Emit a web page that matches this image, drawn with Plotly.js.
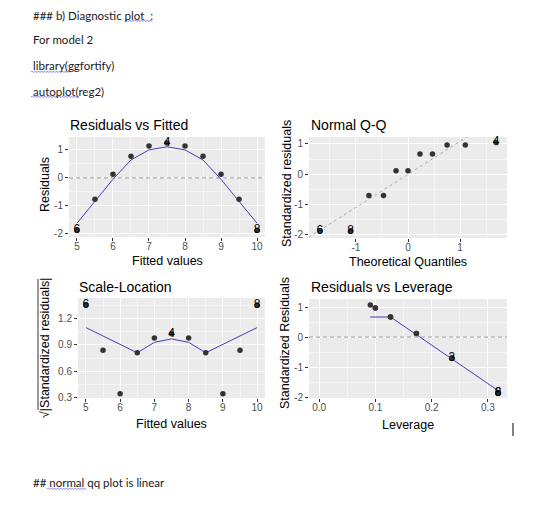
<!DOCTYPE html>
<html><head><meta charset="utf-8">
<script src="https://cdn.plot.ly/plotly-3.0.1.min.js"></script>
<style>html,body{margin:0;padding:0;background:#fff;} #chart{width:560px;height:507px;}</style>
</head><body><div id="chart"></div>
<script>
// ---------- data ----------
const fitted = [5,5.5,6,6.5,7,7.5,8,8.5,9,9.5,10];
const residuals = [-1.87,-0.76,0.13,0.77,1.14,1.25,1.14,0.77,0.13,-0.76,-1.87];
const residSmooth = [-1.62,-0.84,-0.05,0.64,1.0,1.11,1.0,0.64,-0.05,-0.84,-1.62];
const residLabelIdx = [0,5,10];
const residLabels = ["6","4","8"];

const theoretical = [-1.69,-1.10,-0.75,-0.47,-0.23,0,0.23,0.47,0.75,1.10,1.69];
const sampleStdRes = [-1.86,-1.86,-0.70,-0.70,0.12,0.12,0.67,0.67,0.97,0.97,1.05];
const qqLabelIdx = [0,1,10];
const qqLabels = ["6","8","4"];
const qqLineX = [-2.2, 2.2];
const qqLineY = [-2.4, 2.4];

const sqrtStdRes = [1.36,0.84,0.34,0.81,0.98,1.03,0.98,0.81,0.34,0.84,1.36];
const slSmoothX = [5,6.5,7,7.5,8,8.5,10];
const slSmoothY = [1.10,0.81,0.93,0.97,0.93,0.81,1.10];
const slLabelIdx = [0,5,10];
const slLabels = ["6","4","8"];

const leverage = [0.318,0.236,0.173,0.127,0.100,0.091,0.100,0.127,0.173,0.236,0.318];
const stdRes = [-1.86,-0.70,0.12,0.67,0.97,1.07,0.97,0.67,0.12,-0.70,-1.86];
const levSmoothX = [0.091,0.100,0.127,0.173,0.236,0.318];
const levSmoothY = [0.67,0.67,0.67,0.08,-0.74,-1.78];
const levLabelIdx = [0,10,1];
const levLabels = ["6","8","3"];

const fittedTicks = [5,6,7,8,9,10];
const fittedTickText = ["5","6","7","8","9","10"];
const residTicks = [-2,-1,0,1];
const residTickText = ["-2","-1","0","1"];
const qqTicks = [-1,0,1];
const qqTickText = ["-1","0","1"];
const slTicks = [0.3,0.6,0.9,1.2];
const slTickText = ["0.3","0.6","0.9","1.2"];
const levTicks = [0,0.1,0.2,0.3];
const levTickText = ["0.0","0.1","0.2","0.3"];

// ---------- helpers ----------
const W = 560, H = 507;
const px = x => x / W;
const py = y => 1 - y / H;
const F = "Liberation Sans, Arial, sans-serif";
const DOC = "Lato, 'Open Sans', sans-serif";
const PT = "#333333", LINE = "#3f3fbf";

function pick(arr, idx){ return idx.map(i => arr[i]); }

function ax(dom, range, tv, tt, minor, anchor, isY){
  return {
    domain: isY ? [py(dom[1]), py(dom[0])] : [px(dom[0]), px(dom[1])],
    range: range, anchor: anchor, fixedrange: true,
    tickmode: "array", tickvals: tv, ticktext: tt,
    ticks: "outside", ticklen: 3, tickwidth: 1, tickcolor: "#333333",
    ticklabelstandoff: isY ? 0 : -3,
    tickfont: {family: F, size: 10, color: "#4D4D4D"},
    showgrid: true, gridcolor: "#ffffff", gridwidth: 1,
    zeroline: false, showline: false,
    minor: {tickvals: minor, showgrid: true, gridcolor: "#ffffff", gridwidth: 0.5}
  };
}

const traces = [];
const labelFont = {family: F, size: 12, color: "#000000"};
function panel(xa, ya, x, y, sx, sy, lidx, ltxt){
  traces.push({x: sx, y: sy, xaxis: xa, yaxis: ya, mode: "lines", type: "scatter",
    line: {color: LINE, width: 1}, hoverinfo: "skip"});
  traces.push({x: x, y: y, xaxis: xa, yaxis: ya, mode: "markers", type: "scatter",
    marker: {color: PT, size: 5.5}, hoverinfo: "skip"});
  traces.push({x: pick(x, lidx), y: pick(y, lidx), text: ltxt, xaxis: xa, yaxis: ya,
    mode: "text", type: "scatter", textposition: "middle center", cliponaxis: false,
    textfont: labelFont, hoverinfo: "skip"});
}

panel("x", "y", fitted, residuals, fitted, residSmooth, residLabelIdx, residLabels);
// Q-Q: dashed reference line instead of smoother
traces.push({x: qqLineX, y: qqLineY, xaxis: "x2", yaxis: "y2", mode: "lines", type: "scatter",
  line: {color: "#a0a0a0", width: 0.9, dash: "3px,3px"}, hoverinfo: "skip"});
traces.push({x: theoretical, y: sampleStdRes, xaxis: "x2", yaxis: "y2", mode: "markers", type: "scatter",
  marker: {color: PT, size: 5.5}, hoverinfo: "skip"});
traces.push({x: pick(theoretical, qqLabelIdx), y: pick(sampleStdRes, qqLabelIdx), text: qqLabels,
  xaxis: "x2", yaxis: "y2", mode: "text", type: "scatter", textposition: "middle center", cliponaxis: false,
  textfont: labelFont, hoverinfo: "skip"});
panel("x3", "y3", fitted, sqrtStdRes, slSmoothX, slSmoothY, slLabelIdx, slLabels);
panel("x4", "y4", leverage, stdRes, levSmoothX, levSmoothY, levLabelIdx, levLabels);

const P1 = {x:[69,265], y:[137,237]};
const P2 = {x:[309,507], y:[137,238]};
const P3 = {x:[78,265], y:[298,398]};
const P4 = {x:[309,507], y:[299,398]};

const layout = {
  width: W, height: H, margin: {l:0, r:0, t:0, b:0},
  paper_bgcolor: "#ffffff", plot_bgcolor: "#EBEBEB", showlegend: false,
  font: {family: F},
  xaxis:  ax(P1.x, [4.78,10.22], fittedTicks, fittedTickText, [5.5,6.5,7.5,8.5,9.5], "y", false),
  yaxis:  ax(P1.y, [-2.11,1.46], residTicks, residTickText, [-1.5,-0.5,0.5], "x", true),
  xaxis2: ax(P2.x, [-1.9,1.9], qqTicks, qqTickText, [-1.5,-0.5,0.5,1.5], "y2", false),
  yaxis2: ax(P2.y, [-2.1,1.23], residTicks, residTickText, [-1.5,-0.5,0.5], "x2", true),
  xaxis3: ax(P3.x, [4.77,10.23], fittedTicks, fittedTickText, [5.5,6.5,7.5,8.5,9.5], "y3", false),
  yaxis3: ax(P3.y, [0.29,1.44], slTicks, slTickText, [0.45,0.75,1.05,1.35], "x3", true),
  xaxis4: ax(P4.x, [-0.018,0.334], levTicks, levTickText, [0.05,0.15,0.25], "y4", false),
  yaxis4: ax(P4.y, [-2.03,1.27], residTicks, residTickText, [-1.5,-0.5,0.5], "x4", true),
  shapes: [], annotations: []
};

// dashed zero reference lines
[["x","y"],["x4","y4"]].forEach(([xa,ya]) => layout.shapes.push({
  type:"line", xref: xa + " domain", yref: ya, x0:0, x1:1, y0:0, y1:0,
  line:{color:"#7f7f7f", width:0.8, dash:"4px,3px"}}));

// overline of the square-root axis title
layout.shapes.push({type:"line", xref:"paper", yref:"paper", x0:px(38), x1:px(38), y0:py(410), y1:py(279),
  line:{color:"#000", width:0.8}});
// text cursor
layout.shapes.push({type:"line", xref:"paper", yref:"paper", x0:px(513), x1:px(513), y0:py(436), y1:py(423),
  line:{color:"#000", width:1}});

// wavy spell-check underlines
function wavy(x0, x1, y){
  let d = "M" + px(x0) + "," + py(y);
  let up = true;
  for (let x = x0 + 1.5; x <= x1; x += 1.5){
    d += " L" + px(x) + "," + py(y + (up ? -1 : 0.6));
    up = !up;
  }
  layout.shapes.push({type:"path", xref:"paper", yref:"paper", path:d, line:{color:"#6a6adf", width:0.8}});
}
wavy(125,153,21); wavy(31,70,72); wavy(31,80,97); wavy(47,86,489);

function note(text, x, y, size, opts){
  layout.annotations.push(Object.assign({text:text, x:px(x), y:py(y), xref:"paper", yref:"paper",
    showarrow:false, xanchor:"left", yanchor:"middle",
    font:{family:F, size:size, color:"#000"}}, opts||{}));
}
// document text
const docOpts = {font:{family:DOC, size:11.5, color:"#1a1a1a"}};
note("### b) Diagnostic plot  :", 31, 15, 11.5, docOpts);
note("For model 2", 31, 40, 11.5, docOpts);
note("library(ggfortify)", 31, 65, 11.5, docOpts);
note("autoplot(reg2)", 31, 91, 11.5, docOpts);
note("## normal qq plot is linear", 31, 482, 11.5, docOpts);

// panel titles
note("Residuals vs Fitted", 68, 125, 14);
note("Normal Q-Q", 309, 125, 14);
note("Scale-Location", 77, 287, 14);
note("Residuals vs Leverage", 309, 287, 14);
// axis titles
const c = {xanchor:"center"};
const r = {xanchor:"center", textangle:-90};
note("Fitted values", 167, 261, 12.5, c);
note("Residuals", 45, 185, 12.5, r);
note("Theoretical Quantiles", 408, 262, 12.5, c);
note("Standardized residuals", 287, 184, 12.5, r);
note("Fitted values", 171, 424, 12.5, c);
note("√|Standardized residuals|", 45, 348, 12.5, r);
note("Leverage", 408, 425, 12.5, c);
note("Standardized Residuals", 285, 343, 12.5, r);

Plotly.newPlot("chart", traces, layout, {staticPlot:true, displayModeBar:false});
</script>
</body></html>
